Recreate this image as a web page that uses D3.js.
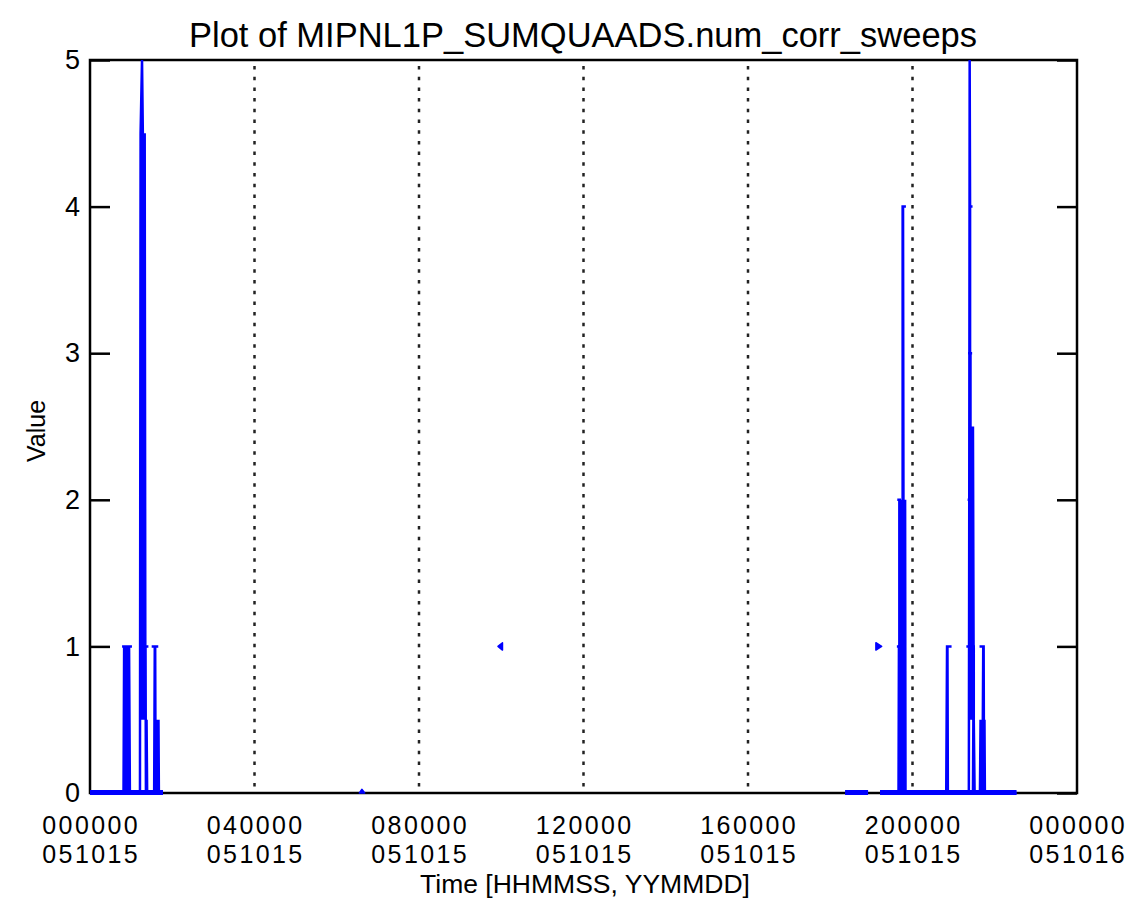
<!DOCTYPE html>
<html>
<head>
<meta charset="utf-8">
<script src="https://cdn.jsdelivr.net/npm/d3@7"></script>
<style>
  html, body { margin: 0; padding: 0; background: #fff; }
  svg { display: block; }
  text { font-family: "Liberation Sans", Arial, sans-serif; fill: #000; }
</style>
</head>
<body>
<svg id="chart" width="1135" height="907"></svg>
<script>
// ---------- data ----------
const title = "Plot of MIPNL1P_SUMQUAADS.num_corr_sweeps";
const xTitle = "Time [HHMMSS, YYMMDD]";
const yTitle = "Value";

const tickHours = [0, 4, 8, 12, 16, 20, 24];
const tickTimes = ["000000", "040000", "080000", "120000", "160000", "200000", "000000"];
const tickDates = ["051015", "051015", "051015", "051015", "051015", "051015", "051016"];
const gridHours = [4, 8, 12, 16, 20];
const yTicks = [0, 1, 2, 3, 4, 5];

// series points [hour, value]; separate arrays = gaps in the record
const leftCluster = [
  [0, 0], [0.815, 0], [0.83, 1], [0.78, 1], [1.02, 1], [0.85, 1], [0.85, 0], [0.87, 1],
  [0.89, 0], [0.91, 1], [0.93, 0], [0.95, 1], [0.97, 0],
  [1.215, 0], [1.23, 4.5], [1.265, 5], [1.285, 4.5], [1.255, 0.5], [1.27, 4.5], [1.29, 0.5],
  [1.305, 4.5], [1.32, 0.5], [1.33, 4.5], [1.345, 1], [1.42, 1], [1.35, 1], [1.36, 0],
  [1.375, 0.5], [1.39, 0],
  [1.56, 0], [1.575, 1], [1.50, 1], [1.66, 1], [1.585, 1], [1.595, 0], [1.61, 0.5],
  [1.625, 0], [1.64, 0.5], [1.655, 0], [1.665, 0.5], [1.675, 0], [1.775, 0]
];
const rightCluster = [
  [19.21, 0], [19.66, 0], [19.67, 1], [19.62, 1], [19.68, 1], [19.68, 2], [19.63, 2], [19.69, 2],
  [19.70, 0], [19.72, 2], [19.74, 0], [19.76, 2], [19.76, 4], [19.84, 4], [19.77, 4],
  [19.78, 2], [19.80, 0], [19.82, 2], [19.83, 0],
  [20.82, 0], [20.84, 1], [20.95, 1], [20.85, 1], [20.86, 0],
  [21.37, 0], [21.38, 2], [21.34, 2], [21.38, 2], [21.39, 5], [21.40, 4], [21.46, 4],
  [21.40, 4], [21.40, 3], [21.35, 3], [21.45, 3], [21.41, 3], [21.41, 2.5], [21.40, 0.5],
  [21.43, 2.5], [21.45, 0.5], [21.47, 2.5], [21.49, 0.5], [21.49, 1], [21.31, 1], [21.49, 1],
  [21.47, 0], [21.49, 0.5], [21.51, 0],
  [21.64, 0], [21.655, 0.5], [21.67, 0], [21.685, 0.5], [21.70, 0], [21.72, 1], [21.63, 1],
  [21.73, 1], [21.74, 0], [21.75, 0.5], [21.76, 0], [22.53, 0]
];
// isolated short records (drawn as small solid marks)
const blipA = [[6.55, 0], [6.61, 0.025], [6.68, 0]];
const pointB = [[10.03, 1.025], [9.92, 1], [10.03, 0.975]];
const pointC = [[19.11, 1.025], [19.25, 1], [19.11, 0.975]];
const series = [leftCluster, rightCluster];
const isolated = [blipA, pointB, pointC];
const zeroRuns = [[0, 1.775], [18.36, 18.92], [19.21, 22.53]];

// ---------- chart ----------
const svg = d3.select("#chart");
const x = d3.scaleLinear().domain([0, 24]).range([90, 1077]);
const y = d3.scaleLinear().domain([0, 5]).range([793, 60]);

// title
svg.append("text").attr("x", 583).attr("y", 47)
  .attr("text-anchor", "middle").style("font-size", "34.5px").text(title);

// dotted grid
svg.append("g").selectAll("line").data(gridHours).join("line")
  .attr("x1", d => x(d)).attr("x2", d => x(d))
  .attr("y1", y(5) + 6).attr("y2", y(0) - 5)
  .attr("stroke", "#222").attr("stroke-width", 2.5)
  .attr("stroke-dasharray", "3.5,7.2");

// y axes (ticks inward)
const yl = svg.append("g").attr("transform", `translate(${x(0)},0)`)
  .call(d3.axisLeft(y).tickValues(yTicks).tickFormat(d3.format("d"))
    .tickSizeInner(-20).tickSizeOuter(0).tickPadding(10));
yl.select(".domain").remove();
yl.selectAll(".tick line").attr("stroke", "#000").attr("stroke-width", 2.5);
yl.selectAll(".tick text").style("font-size", "27px").attr("font-family", null);

const yr = svg.append("g").attr("transform", `translate(${x(24)},0)`)
  .call(d3.axisRight(y).tickValues(yTicks).tickFormat("")
    .tickSizeInner(-20).tickSizeOuter(0));
yr.select(".domain").remove();
yr.selectAll(".tick line").attr("stroke", "#000").attr("stroke-width", 2.5);

// frame
svg.append("rect").attr("x", x(0)).attr("y", y(5))
  .attr("width", x(24) - x(0)).attr("height", y(0) - y(5))
  .attr("fill", "none").attr("stroke", "#000").attr("stroke-width", 2.5);

// x tick labels (two lines, separate texts)
const xg = svg.append("g");
xg.selectAll("text.t").data(tickHours).join("text").attr("class", "t")
  .attr("x", d => x(d)).attr("dx", 1.2).attr("y", 834)
  .attr("text-anchor", "middle").style("font-size", "25px").style("letter-spacing", "2.4px")
  .text((d, i) => tickTimes[i]);
xg.selectAll("text.d").data(tickHours).join("text").attr("class", "d")
  .attr("x", d => x(d)).attr("dx", 1.2).attr("y", 862.5)
  .attr("text-anchor", "middle").style("font-size", "25px").style("letter-spacing", "2.4px")
  .text((d, i) => tickDates[i]);

// axis titles
svg.append("text").attr("x", 585).attr("y", 893)
  .attr("text-anchor", "middle").style("font-size", "26.5px").text(xTitle);
svg.append("text").attr("transform", "translate(45,431) rotate(-90)")
  .attr("text-anchor", "middle").style("font-size", "25px").text(yTitle);

// data
const line = d3.line().x(d => x(d[0])).y(d => y(d[1]));
svg.append("g").selectAll("line").data(zeroRuns).join("line")
  .attr("x1", d => x(d[0])).attr("x2", d => x(d[1]))
  .attr("y1", y(0) - 0.5).attr("y2", y(0) - 0.5)
  .attr("stroke", "#0000ff").attr("stroke-width", 5);
svg.append("g").selectAll("path").data(series).join("path")
  .attr("d", line).attr("fill", "none")
  .attr("stroke", "#0000ff").attr("stroke-width", 2.5)
  .attr("stroke-linejoin", "miter").attr("stroke-miterlimit", 2);
svg.append("g").selectAll("path").data(isolated).join("path")
  .attr("d", d => line(d) + "Z").attr("fill", "#0000ff")
  .attr("stroke", "#0000ff").attr("stroke-width", 1.5)
  .attr("stroke-linejoin", "round");
</script>
</body>
</html>
